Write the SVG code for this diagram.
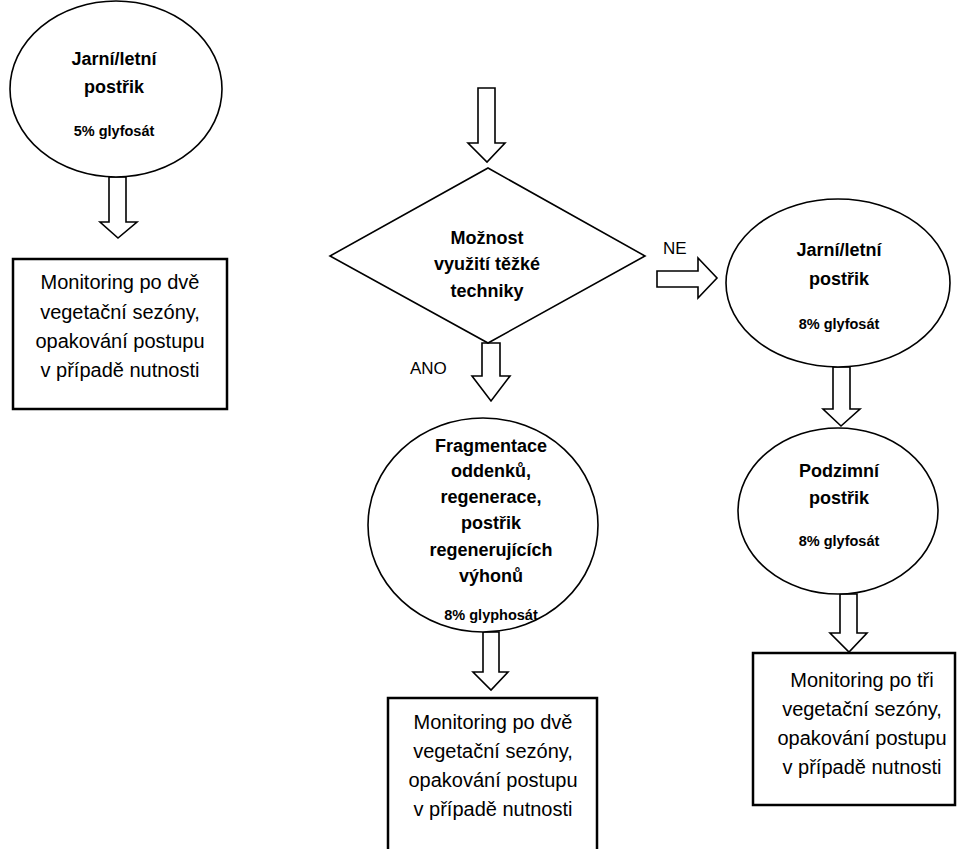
<svg xmlns="http://www.w3.org/2000/svg" width="957" height="849" viewBox="0 0 957 849">
<style>
.shape{fill:#fff;stroke:#000;stroke-width:1.6}
.box{fill:#fff;stroke:#000;stroke-width:2.5}
.arrow{fill:#fff;stroke:#000;stroke-width:1.6;stroke-linejoin:miter}
.b{font-family:"Liberation Sans",Arial,sans-serif;font-weight:bold;font-size:18px;text-anchor:middle;fill:#000}
.s{font-family:"Liberation Sans",Arial,sans-serif;font-weight:bold;font-size:14.5px;text-anchor:middle;fill:#000}
.r{font-family:"Liberation Sans",Arial,sans-serif;font-size:20px;text-anchor:middle;fill:#000}
.l{font-family:"Liberation Sans",Arial,sans-serif;font-size:17px;fill:#000}
</style>
<rect width="957" height="849" fill="#fff"/>
<g id="connectors">
<polygon class="arrow" points="109,177 126,177 126,222 137,222 118,238 100,222 109,222"/>
<polygon class="arrow" points="478,88 495,88 495,143 505,143 487,162 468,143 478,143"/>
<polygon class="arrow" points="657,271 698,271 698,258 717,278 698,298 698,287 657,287"/>
<polygon class="arrow" points="482,343 500,343 500,376 510,376 491,401 472,376 482,376"/>
<polygon class="arrow" points="483,632 499,632 499,672 508,672 491,690 473,672 483,672"/>
<polygon class="arrow" points="833,367 850,367 850,409 860,409 841,426 823,409 833,409"/>
<polygon class="arrow" points="840,594 857,594 857,633 867,633 849,652 830,633 840,633"/>
<text class="l" x="663" y="254">NE</text>
<text class="l" x="410" y="374">ANO</text>
</g>
<g id="spray1">
<ellipse class="shape" cx="116" cy="89" rx="106" ry="88"/>
<text class="b" x="114" y="65">Jarní/letní</text>
<text class="b" x="114" y="93">postřik</text>
<text class="s" x="114" y="136">5% glyfosát</text>
</g>
<g id="monitor1">
<rect class="box" x="13" y="259" width="214" height="150"/>
<text class="r" x="120" y="289">Monitoring po dvě</text>
<text class="r" x="120" y="319">vegetační sezóny,</text>
<text class="r" x="120" y="348">opakování postupu</text>
<text class="r" x="120" y="377">v případě nutnosti</text>
</g>
<g id="decision">
<polygon class="shape" points="488,168 645,256 488,343 330,256"/>
<text class="b" x="487" y="244">Možnost</text>
<text class="b" x="487" y="270">využití těžké</text>
<text class="b" x="487" y="297">techniky</text>
</g>
<g id="spray2">
<ellipse class="shape" cx="838" cy="283" rx="112" ry="84"/>
<text class="b" x="839" y="256">Jarní/letní</text>
<text class="b" x="839" y="285">postřik</text>
<text class="s" x="839" y="329">8% glyfosát</text>
</g>
<g id="spray3">
<ellipse class="shape" cx="838" cy="511" rx="100" ry="83"/>
<text class="b" x="839" y="477">Podzimní</text>
<text class="b" x="839" y="504">postřik</text>
<text class="s" x="839" y="546">8% glyfosát</text>
</g>
<g id="fragment">
<ellipse class="shape" cx="483" cy="525" rx="115" ry="107"/>
<text class="b" x="491" y="452">Fragmentace</text>
<text class="b" x="491" y="477">oddenků,</text>
<text class="b" x="491" y="503">regenerace,</text>
<text class="b" x="491" y="529">postřik</text>
<text class="b" x="491" y="556">regenerujících</text>
<text class="b" x="491" y="582">výhonů</text>
<text class="s" x="491" y="620">8% glyphosát</text>
</g>
<g id="monitor2">
<rect class="box" x="388" y="698" width="209" height="170"/>
<text class="r" x="493" y="729">Monitoring po dvě</text>
<text class="r" x="493" y="758">vegetační sezóny,</text>
<text class="r" x="493" y="787">opakování postupu</text>
<text class="r" x="493" y="816">v případě nutnosti</text>
</g>
<g id="monitor3">
<rect class="box" x="753" y="653" width="202" height="152"/>
<text class="r" x="862" y="687">Monitoring po tři</text>
<text class="r" x="862" y="716">vegetační sezóny,</text>
<text class="r" x="862" y="745">opakování postupu</text>
<text class="r" x="862" y="774">v případě nutnosti</text>
</g>
</svg>
